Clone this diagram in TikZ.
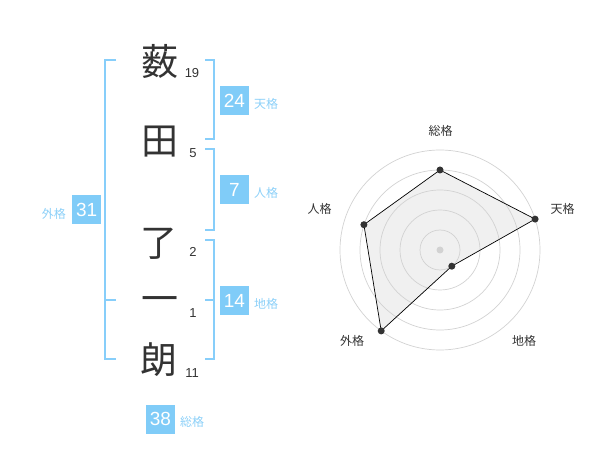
\documentclass[tikz,border=0pt]{standalone}
\usepackage{fontspec}
\setmainfont{Noto Sans CJK JP}
\newfontfamily\digitfont{Liberation Sans}
\definecolor{boxblue}{RGB}{128,204,248}
\definecolor{lineblue}{RGB}{135,206,250}
\definecolor{lblblue}{RGB}{140,208,248}
\definecolor{ink}{RGB}{51,51,51}
\definecolor{ringgrey}{RGB}{210,210,210}
\definecolor{polyfill}{RGB}{240,240,240}
\tikzset{
  kanji/.style={inner sep=0pt, text=ink, font=\fontsize{37}{37}\selectfont},
  stroke/.style={inner sep=0pt, text=ink, font=\digitfont\fontsize{13}{13}\selectfont},
  numbox/.style={fill=boxblue, text=white, minimum width=29pt, minimum height=29pt, inner sep=0pt, font=\digitfont\fontsize{19}{19}\selectfont},
  kaku/.style={inner sep=0pt, text=lblblue, font=\fontsize{12}{12}\selectfont},
  brk/.style={draw=lineblue, line width=1.8pt},
  ring/.style={draw=ringgrey, line width=0.7pt},
  axlbl/.style={inner sep=0pt, text=ink, font=\fontsize{12}{12}\selectfont},
  pt/.style={circle, fill=ink, inner sep=0pt, minimum size=7pt},
}
\begin{document}
\begin{tikzpicture}[x=1pt,y=-1pt]
\useasboundingbox (0,0) rectangle (600,470);
% kanji
\node[kanji] (k1) at (160,61) {薮};
\node[kanji] (k2) at (160,142) {田};
\node[kanji] (k3) at (159,244) {了};
\node[kanji] (k4) at (160,305) {一};
\node[kanji] (k5) at (159,360) {朗};
\node[stroke] (s1) at (192,73) {19};
\node[stroke] (s2) at (193,153) {5};
\node[stroke] (s3) at (193,252) {2};
\node[stroke] (s4) at (193,313) {1};
\node[stroke] (s5) at (192,373) {11};
% brackets
\coordinate (La) at (116,60); \coordinate (Lb) at (105,60);
\coordinate (Lc) at (105,359); \coordinate (Ld) at (116,359);
\coordinate (Le) at (105,300); \coordinate (Lf) at (116,300);
\draw[brk] (La) -- (Lb) -- (Lc) -- (Ld);
\draw[brk] (Le) -- (Lf);
\coordinate (Ta) at (205,60); \coordinate (Tb) at (214,60);
\coordinate (Tc) at (214,139); \coordinate (Td) at (205,139);
\draw[brk] (Ta) -- (Tb) -- (Tc) -- (Td);
\coordinate (Ja) at (205,149); \coordinate (Jb) at (214,149);
\coordinate (Jc) at (214,230); \coordinate (Jd) at (205,230);
\draw[brk] (Ja) -- (Jb) -- (Jc) -- (Jd);
\coordinate (Ca) at (205,240); \coordinate (Cb) at (214,240);
\coordinate (Cc) at (214,359); \coordinate (Cd) at (205,359);
\coordinate (Ce) at (205,300); \coordinate (Cf) at (214,300);
\draw[brk] (Ca) -- (Cb) -- (Cc) -- (Cd);
\draw[brk] (Ce) -- (Cf);
% boxes
\node[numbox] (b24) at (234.5,100.5) {24};
\node[kaku, anchor=west] (l24) at (254,104) {天格};
\node[numbox] (b7) at (234.5,190) {7};
\node[kaku, anchor=west] (l7) at (254,193) {人格};
\node[numbox] (b14) at (234.5,300.5) {14};
\node[kaku, anchor=west] (l14) at (254,304) {地格};
\node[numbox] (b31) at (86.7,210) {31};
\node[kaku, anchor=east] (l31) at (66,214) {外格};
\node[numbox] (b38) at (160.5,419) {38};
\node[kaku, anchor=west] (l38) at (180,422) {総格};
% radar
\coordinate (O) at (440,250);
\coordinate (pS) at (440,170);
\coordinate (pT) at (535.1,219.1);
\coordinate (pC) at (451.8,266.2);
\coordinate (pG) at (381.2,330.9);
\coordinate (pJ) at (363.9,224.7);
\fill[polyfill] (pS) -- (pT) -- (pC) -- (pG) -- (pJ) -- cycle;
\foreach \r in {20,40,60,80,100} \draw[ring] (O) circle[radius=\r];
\draw[black, line width=0.7pt] (pS) -- (pT) -- (pC) -- (pG) -- (pJ) -- cycle;
\fill[ringgrey] (O) circle[radius=3.5];
\foreach \p in {pS,pT,pC,pG,pJ} \node[pt] at (\p) {};
\node[axlbl] (aS) at (440.5,130.5) {総格};
\node[axlbl] (aT) at (562.5,208.5) {天格};
\node[axlbl] (aC) at (524,341) {地格};
\node[axlbl] (aG) at (352,341) {外格};
\node[axlbl] (aJ) at (319.5,208.5) {人格};
\end{tikzpicture}
\end{document}
